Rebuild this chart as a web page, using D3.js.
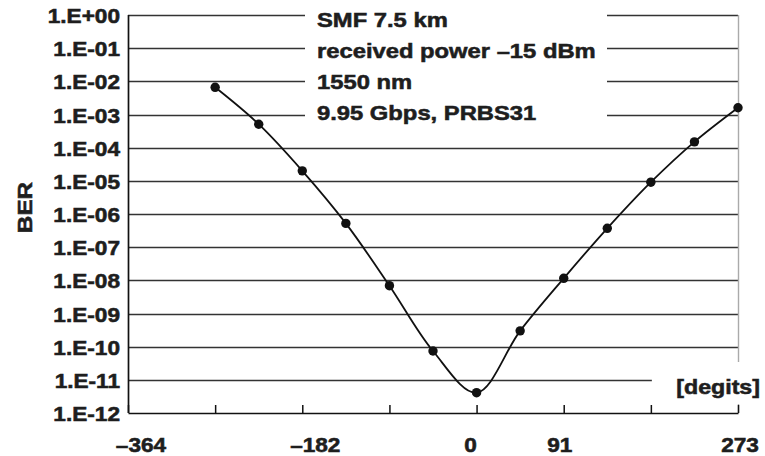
<!DOCTYPE html>
<html><head><meta charset="utf-8">
<script src="https://cdn.jsdelivr.net/npm/d3@7"></script>
<style>body{margin:0;background:#fff}svg{display:block}
text{paint-order:stroke;stroke:#1e1e1e;stroke-width:0.55px;fill:#1e1e1e}</style>
</head><body><svg id="c" width="765" height="456"></svg>
<script>
// ---- data ----
const xValues = [-273, -227.5, -182, -136.5, -91, -45.5, 0, 45.5, 91, 136.5, 182, 227.5, 273];
const berValues = [6.6e-3, 5.1e-4, 2.0e-5, 5.2e-7, 6.9e-9, 7.4e-11, 4.1e-12, 3.0e-10, 1.15e-8, 3.7e-7, 9.1e-6, 1.5e-4, 1.6e-3];
const xTicks = [-364, -273, -182, -91, 0, 91, 182, 273];
const xTickLabels = ["–364", "", "–182", "", "0", "91", "", "273"];
const yTicks = [1, 1e-1, 1e-2, 1e-3, 1e-4, 1e-5, 1e-6, 1e-7, 1e-8, 1e-9, 1e-10, 1e-11, 1e-12];
const yTickLabels = ["1.E+00","1.E-01","1.E-02","1.E-03","1.E-04","1.E-05","1.E-06","1.E-07","1.E-08","1.E-09","1.E-10","1.E-11","1.E-12"];
const annotations = ["SMF 7.5 km", "received power –15 dBm", "1550 nm", "9.95 Gbps, PRBS31"];
const xUnit = "[degits]";
const yTitle = "BER";

// ---- layout ----
const L = 128, R = 738, T = 15, B = 413;
const SX = 1.16;
const FONT = "'Liberation Sans', Arial, Helvetica, sans-serif";

const svg = d3.select("#c");
const x = d3.scaleLinear().domain([-364, 273]).range([L, R]);
const y = d3.scaleLog().domain([1e-12, 1]).range([B, T]);

// gridlines
svg.append("g").selectAll("line").data(yTicks.filter(v => v > 1e-12)).join("line")
  .attr("x1", L).attr("x2", R)
  .attr("y1", d => Math.round(y(d)) + 0.5).attr("y2", d => Math.round(y(d)) + 0.5)
  .attr("stroke", "#333").attr("stroke-width", 1.4);

// right border
svg.append("line").attr("x1", R + 0.5).attr("x2", R + 0.5).attr("y1", T).attr("y2", B)
  .attr("stroke", "#aaa").attr("stroke-width", 1.4);

// white boxes (annotation and unit label)
svg.append("rect").attr("x", 305).attr("y", 4).attr("width", 302).attr("height", 118).attr("fill", "#fff");
svg.append("rect").attr("x", x(182) + 1).attr("y", 362).attr("width", 765 - x(182)).attr("height", 42).attr("fill", "#fff");

// left axis
svg.append("line").attr("x1", L + 0.5).attr("x2", L + 0.5).attr("y1", T).attr("y2", B)
  .attr("stroke", "#111").attr("stroke-width", 1.7);

// bottom axis
const xAxis = d3.axisBottom(x).tickValues(xTicks).tickSizeInner(-8).tickSizeOuter(0).tickFormat("");
const gx = svg.append("g").attr("transform", `translate(0,${B})`).call(xAxis);
gx.select(".domain").attr("stroke", "#111").attr("stroke-width", 1.7);
gx.selectAll(".tick line").attr("stroke", "#111").attr("stroke-width", 1.5);

// x tick labels
const xLabelDx = {"–364": 13, "–182": 13, "0": -6, "91": -4, "273": 2};
xTicks.forEach((v, i) => {
  const t = xTickLabels[i];
  if (!t) return;
  svg.append("g").attr("transform", `translate(${x(v) + xLabelDx[t]},451.5) scale(${SX},1)`)
    .append("text").attr("text-anchor", "middle")
    .attr("font-family", FONT).attr("font-weight", "bold").attr("font-size", 19.5)
    .text(t);
});

// y tick labels
yTicks.forEach((v, i) => {
  svg.append("g").attr("transform", `translate(120,${y(v) + 8}) scale(${SX},1)`)
    .append("text").attr("text-anchor", "end")
    .attr("font-family", FONT).attr("font-weight", "bold").attr("font-size", 19.5)
    .text(yTickLabels[i]);
});

// y title
svg.append("g").attr("transform", `translate(32,207.5) rotate(-90) scale(${SX},1)`)
  .append("text").attr("text-anchor", "middle")
  .attr("font-family", FONT).attr("font-weight", "bold").attr("font-size", 21)
  .text(yTitle);

// annotations
annotations.forEach((t, i) => {
  svg.append("g").attr("transform", `translate(317,${26.5 + i * 31}) scale(${SX},1)`)
    .append("text").attr("font-family", FONT).attr("font-weight", "bold").attr("font-size", 20.5)
    .text(t);
});

// unit label
svg.append("g").attr("transform", `translate(760,394) scale(${SX},1)`)
  .append("text").attr("text-anchor", "end")
  .attr("font-family", FONT).attr("font-weight", "bold").attr("font-size", 20)
  .text(xUnit);

// data line
const pts = xValues.map((v, i) => [v, berValues[i]]);
const line = d3.line().x(d => x(d[0])).y(d => y(d[1])).curve(d3.curveCatmullRom.alpha(0.5));
svg.append("path").datum(pts).attr("d", line).attr("fill", "none")
  .attr("stroke", "#111").attr("stroke-width", 1.8);
svg.append("g").selectAll("circle").data(pts).join("circle")
  .attr("cx", d => x(d[0])).attr("cy", d => y(d[1])).attr("r", 4.7).attr("fill", "#111");
</script>
</body></html>
